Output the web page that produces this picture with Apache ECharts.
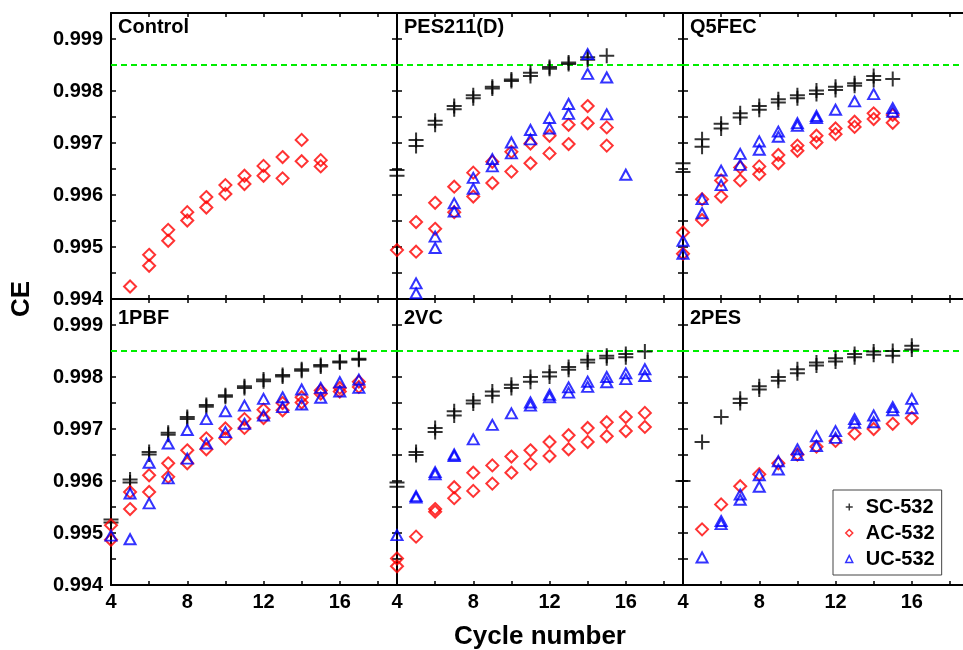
<!DOCTYPE html>
<html><head><meta charset="utf-8">
<script src="https://cdn.jsdelivr.net/npm/echarts@6/dist/echarts.min.js"></script>
<style>html,body{margin:0;padding:0;background:#fff}#c{width:963px;height:650px}</style>
</head><body><div id="c"></div><script>
// ---- data: [cycle number, CE] ----
const panelNames = ['Control', 'PES211(D)', 'Q5FEC', '1PBF', '2VC', '2PES'];
const seriesNames = ['SC-532', 'AC-532', 'UC-532'];
const xTickLabels = [4, 8, 12, 16];
const yTickLabels = ['0.994', '0.995', '0.996', '0.997', '0.998', '0.999'];
const refLine = 0.9985;

const controlAC = [[5,0.99424],[6,0.99485],[6,0.99464],[7,0.99533],[7,0.99512],[8,0.99567],[8,0.99551],[9,0.99596],[9,0.99576],[10,0.99619],[10,0.99602],[11,0.99637],[11,0.99621],[12,0.99656],[12,0.99637],[13,0.99673],[13,0.99632],[14,0.99706],[14,0.99665],[15,0.99667],[15,0.99655]];

const pesSC = [[4,0.99648],[4,0.99637],[5,0.99706],[5,0.99694],[6,0.99743],[6,0.99735],[7,0.99771],[7,0.99765],[8,0.99792],[8,0.99786],[9,0.99808],[9,0.99805],[10,0.99822],[10,0.99819],[11,0.99835],[11,0.99829],[12,0.99846],[12,0.99843],[13,0.99855],[13,0.99852],[14,0.99865],[14,0.99860],[15,0.99868]];
const pesAC = [[4,0.99494],[5,0.99548],[5,0.99491],[6,0.99585],[6,0.99535],[7,0.99616],[7,0.99567],[8,0.99643],[8,0.99597],[9,0.99664],[9,0.99623],[10,0.99683],[10,0.99645],[11,0.99699],[11,0.99661],[12,0.99714],[12,0.99680],[13,0.99735],[13,0.99698],[14,0.99771],[14,0.99738],[15,0.99730],[15,0.99695]];
const pesUC = [[5,0.99430],[5,0.99411],[6,0.99520],[6,0.99498],[7,0.99584],[7,0.99568],[8,0.99633],[8,0.99612],[9,0.99669],[9,0.99655],[10,0.99701],[10,0.99680],[11,0.99725],[11,0.99707],[12,0.99748],[12,0.99728],[13,0.99775],[13,0.99756],[14,0.99871],[14,0.99833],[15,0.99826],[15,0.99755],[16,0.99639]];

const q5SC = [[4,0.99661],[4,0.99644],[5,0.99707],[5,0.99693],[6,0.99737],[6,0.99728],[7,0.99757],[7,0.99749],[8,0.99771],[8,0.99764],[9,0.99784],[9,0.99778],[10,0.99792],[10,0.99786],[11,0.99801],[11,0.99794],[12,0.99808],[12,0.99802],[13,0.99815],[13,0.99810],[14,0.99829],[14,0.99821],[15,0.99823]];
const q5AC = [[4,0.99528],[4,0.99487],[5,0.99592],[5,0.99552],[6,0.99628],[6,0.99597],[7,0.99653],[7,0.99628],[8,0.99655],[8,0.99640],[9,0.99677],[9,0.99661],[10,0.99695],[10,0.99685],[11,0.99714],[11,0.99701],[12,0.99728],[12,0.99717],[13,0.99741],[13,0.99731],[14,0.99757],[14,0.99746],[15,0.99754],[15,0.99739]];
const q5UC = [[4,0.99512],[4,0.99487],[5,0.99592],[5,0.99565],[6,0.99647],[6,0.99619],[7,0.99679],[7,0.99658],[8,0.99703],[8,0.99687],[9,0.99722],[9,0.99712],[10,0.99738],[10,0.99733],[11,0.99752],[11,0.99748],[12,0.99764],[13,0.99780],[14,0.99794],[15,0.99767],[15,0.99760]];

const pbfSC = [[4,0.99526],[4,0.99520],[5,0.99603],[5,0.99597],[6,0.99656],[6,0.99651],[7,0.99693],[7,0.99689],[8,0.99723],[8,0.99719],[9,0.99746],[9,0.99743],[10,0.99765],[10,0.99762],[11,0.99782],[11,0.99779],[12,0.99795],[12,0.99792],[13,0.99804],[13,0.99801],[14,0.99815],[14,0.99812],[15,0.99823],[15,0.99820],[16,0.99830],[16,0.99828],[17,0.99835],[17,0.99833]];
const pbfAC = [[4,0.99515],[4,0.99487],[5,0.99579],[5,0.99546],[6,0.99611],[6,0.99579],[7,0.99634],[7,0.99608],[8,0.99659],[8,0.99634],[9,0.99682],[9,0.99661],[10,0.99701],[10,0.99682],[11,0.99719],[11,0.99702],[12,0.99737],[12,0.99721],[13,0.99750],[13,0.99736],[14,0.99761],[14,0.99751],[15,0.99774],[15,0.99768],[16,0.99779],[16,0.99772],[17,0.99791],[17,0.99781]];
const pbfUC = [[4,0.99495],[5,0.99576],[5,0.99488],[6,0.99635],[6,0.99557],[7,0.99672],[7,0.99605],[8,0.99698],[8,0.99643],[9,0.99719],[9,0.99672],[10,0.99734],[10,0.99694],[11,0.99745],[11,0.99710],[12,0.99758],[12,0.99726],[13,0.99761],[13,0.99742],[14,0.99776],[14,0.99747],[15,0.99779],[15,0.99760],[16,0.99790],[16,0.99772],[17,0.99795],[17,0.99779]];

const vcSC = [[4,0.99597],[4,0.99589],[5,0.99656],[5,0.99650],[6,0.99702],[6,0.99694],[7,0.99734],[7,0.99726],[8,0.99755],[8,0.99749],[9,0.99772],[9,0.99764],[10,0.99785],[10,0.99779],[11,0.99800],[11,0.99791],[12,0.99809],[12,0.99801],[13,0.99819],[13,0.99814],[14,0.99833],[14,0.99828],[15,0.99841],[15,0.99836],[16,0.99844],[16,0.99838],[17,0.99849]];
const vcAC = [[4,0.99451],[4,0.99436],[5,0.99493],[6,0.99546],[6,0.99541],[7,0.99588],[7,0.99567],[8,0.99616],[8,0.99581],[9,0.99630],[9,0.99595],[10,0.99647],[10,0.99616],[11,0.99659],[11,0.99633],[12,0.99675],[12,0.99648],[13,0.99688],[13,0.99661],[14,0.99702],[14,0.99675],[15,0.99713],[15,0.99686],[16,0.99723],[16,0.99696],[17,0.99731],[17,0.99704]];
const vcUC = [[4,0.99496],[5,0.99571],[5,0.99568],[6,0.99617],[6,0.99613],[7,0.99651],[7,0.99648],[8,0.99680],[9,0.99708],[10,0.99730],[11,0.99751],[11,0.99745],[12,0.99766],[12,0.99761],[13,0.99780],[13,0.99770],[14,0.99791],[14,0.99781],[15,0.99800],[15,0.99790],[16,0.99807],[16,0.99796],[17,0.99815],[17,0.99802]];

const twoPesSC = [[4,0.99600],[5,0.99675],[6,0.99723],[7,0.99758],[7,0.99750],[8,0.99782],[8,0.99776],[9,0.99800],[9,0.99793],[10,0.99815],[10,0.99807],[11,0.99828],[11,0.99822],[12,0.99836],[12,0.99830],[13,0.99844],[13,0.99838],[14,0.99849],[14,0.99843],[15,0.99850],[15,0.99841],[16,0.99860],[16,0.99853]];
const twoPesAC = [[5,0.99507],[6,0.99555],[7,0.99590],[8,0.99613],[9,0.99634],[10,0.99651],[11,0.99666],[12,0.99677],[13,0.99691],[14,0.99700],[15,0.99710],[16,0.99721]];
const twoPesUC = [[5,0.99453],[6,0.99523],[6,0.99517],[7,0.99574],[7,0.99564],[8,0.99611],[8,0.99589],[9,0.99638],[9,0.99622],[10,0.99661],[10,0.99650],[11,0.99686],[11,0.99667],[12,0.99696],[12,0.99683],[13,0.99719],[13,0.99712],[14,0.99726],[14,0.99713],[15,0.99742],[15,0.99736],[16,0.99758],[16,0.99740]];

const panelSC = [[], pesSC, q5SC, pbfSC, vcSC, twoPesSC];
const panelAC = [controlAC, pesAC, q5AC, pbfAC, vcAC, twoPesAC];
const panelUC = [[], pesUC, q5UC, pbfUC, vcUC, twoPesUC];

// ---- chart ----
const chart = echarts.init(document.getElementById('c'), null, {renderer: 'canvas'});
const FONT = "'Liberation Sans', Arial, sans-serif";
const X_MIN = 4, X_MAX = 19;
const PL = [111, 397, 683], PT = [13, 299], PW = 286, PH = 286;
const PLUS = 'path://M6.5,0h2v6.5h6.5v2h-6.5v6.5h-2v-6.5h-6.5v-2h6.5z';
const PLUS_LEG = 'path://M4,0h2v4h4v2h-4v4h-2v-4h-4v-2h4z';
const RED = '#ff0000', BLUE = '#0000ff';

const grid = [], xAxis = [], yAxis = [], series = [], graphic = [];
const titleY = [27.5, 318];
for (let i = 0; i < 6; i++) {
  const col = i % 3, row = Math.floor(i / 3);
  grid.push({left: PL[col], top: PT[row], width: PW, height: PH, containLabel: false, outerBoundsMode: 'none'});
  const axisLine = {show: true, onZero: false, lineStyle: {color: '#000', width: 2}};
  const tickX = {show: true, inside: true, length: 4, lineStyle: {color: '#000', width: 1.5}};
  const tickY = {show: true, inside: true, length: 5, lineStyle: {color: '#000', width: 1.5}};
  const baseX = {type: 'value', gridIndex: i, min: X_MIN, max: X_MAX, interval: 2, axisLine, axisTick: tickX, splitLine: {show: false}};
  const baseY = {type: 'value', gridIndex: i, min: 0.994, max: 0.9995, interval: 0.0005, axisLine, axisTick: tickY, splitLine: {show: false}, scale: true};
  xAxis.push(Object.assign({}, baseX, {position: 'bottom', axisLabel: {show: row === 1, interval: 0, margin: 7, fontSize: 20, fontWeight: 'bold', fontFamily: FONT, color: '#000',
    formatter: v => xTickLabels.indexOf(Math.round(v)) >= 0 && Math.abs(v - Math.round(v)) < 1e-6 ? String(Math.round(v)) : ''}}));
  xAxis.push(Object.assign({}, baseX, {position: 'top', axisLabel: {show: false}}));
  yAxis.push(Object.assign({}, baseY, {position: 'left', axisLabel: {show: col === 0, interval: 0, margin: 8, fontSize: 20, fontWeight: 'bold', fontFamily: FONT, color: '#000',
    formatter: v => { const t = yTickLabels.find(l => Math.abs(parseFloat(l) - v) < 1e-7); return t || ''; }}}));
  yAxis.push(Object.assign({}, baseY, {position: 'right', axisLabel: {show: false}}));

  const common = {type: 'scatter', xAxisIndex: 2 * i, yAxisIndex: 2 * i, emphasis: {disabled: true}, animation: false};
  // reference line (dashed green)
  series.push({type: 'line', name: 'ref', xAxisIndex: 2 * i, yAxisIndex: 2 * i, symbol: 'none', silent: true, animation: false, z: 2,
    lineStyle: {color: '#00ee00', type: [6, 4], width: 2}, data: [[X_MIN, refLine], [X_MAX, refLine]]});
  if (panelSC[i].length) series.push(Object.assign({}, common, {name: seriesNames[0], symbol: PLUS, symbolSize: 15, itemStyle: {color: '#000'}, data: panelSC[i], z: 3}));
  series.push(Object.assign({}, common, {name: seriesNames[1], symbol: 'diamond', symbolSize: [12, 12], itemStyle: {color: 'rgba(0,0,0,0)', borderColor: RED, borderWidth: 2}, data: panelAC[i], z: 4}));
  if (panelUC[i].length) series.push(Object.assign({}, common, {name: seriesNames[2], symbol: 'triangle', symbolSize: [11, 10], itemStyle: {color: 'rgba(0,0,0,0)', borderColor: BLUE, borderWidth: 2}, data: panelUC[i], z: 5}));

  graphic.push({type: 'text', x: PL[col] + 7, y: titleY[row], z: 10,
    style: {text: panelNames[i], font: 'bold 20px ' + FONT, fill: '#000', textAlign: 'left', textVerticalAlign: 'middle'}});
}
graphic.push({type: 'text', x: 540, y: 637, z: 10, style: {text: 'Cycle number', font: 'bold 26px ' + FONT, fill: '#000', textAlign: 'center', textVerticalAlign: 'middle'}});
graphic.push({type: 'text', x: 22, y: 299, rotation: Math.PI / 2, z: 10, style: {text: 'CE', font: 'bold 26px ' + FONT, fill: '#000', textAlign: 'center', textVerticalAlign: 'middle'}});

chart.setOption({
  animation: false,
  backgroundColor: '#fff',
  grid, xAxis, yAxis, series, graphic,
  legend: {
    left: 833, top: 490, orient: 'vertical', padding: [7, 7, 6, 12], itemGap: 6, itemWidth: 7, itemHeight: 7,
    borderColor: '#444', borderWidth: 1, backgroundColor: '#fff', selectedMode: false,
    textStyle: {fontSize: 20, fontWeight: 'bold', fontFamily: FONT, color: '#000', padding: [0, 0, 0, 8]},
    data: [
      {name: seriesNames[0], icon: PLUS_LEG, itemStyle: {color: '#000', borderWidth: 0}},
      {name: seriesNames[1], icon: 'diamond', itemStyle: {color: 'rgba(0,0,0,0)', borderColor: RED, borderWidth: 1.5}},
      {name: seriesNames[2], icon: 'triangle', itemStyle: {color: 'rgba(0,0,0,0)', borderColor: BLUE, borderWidth: 1.5}}
    ]
  }
});
</script></body></html>
